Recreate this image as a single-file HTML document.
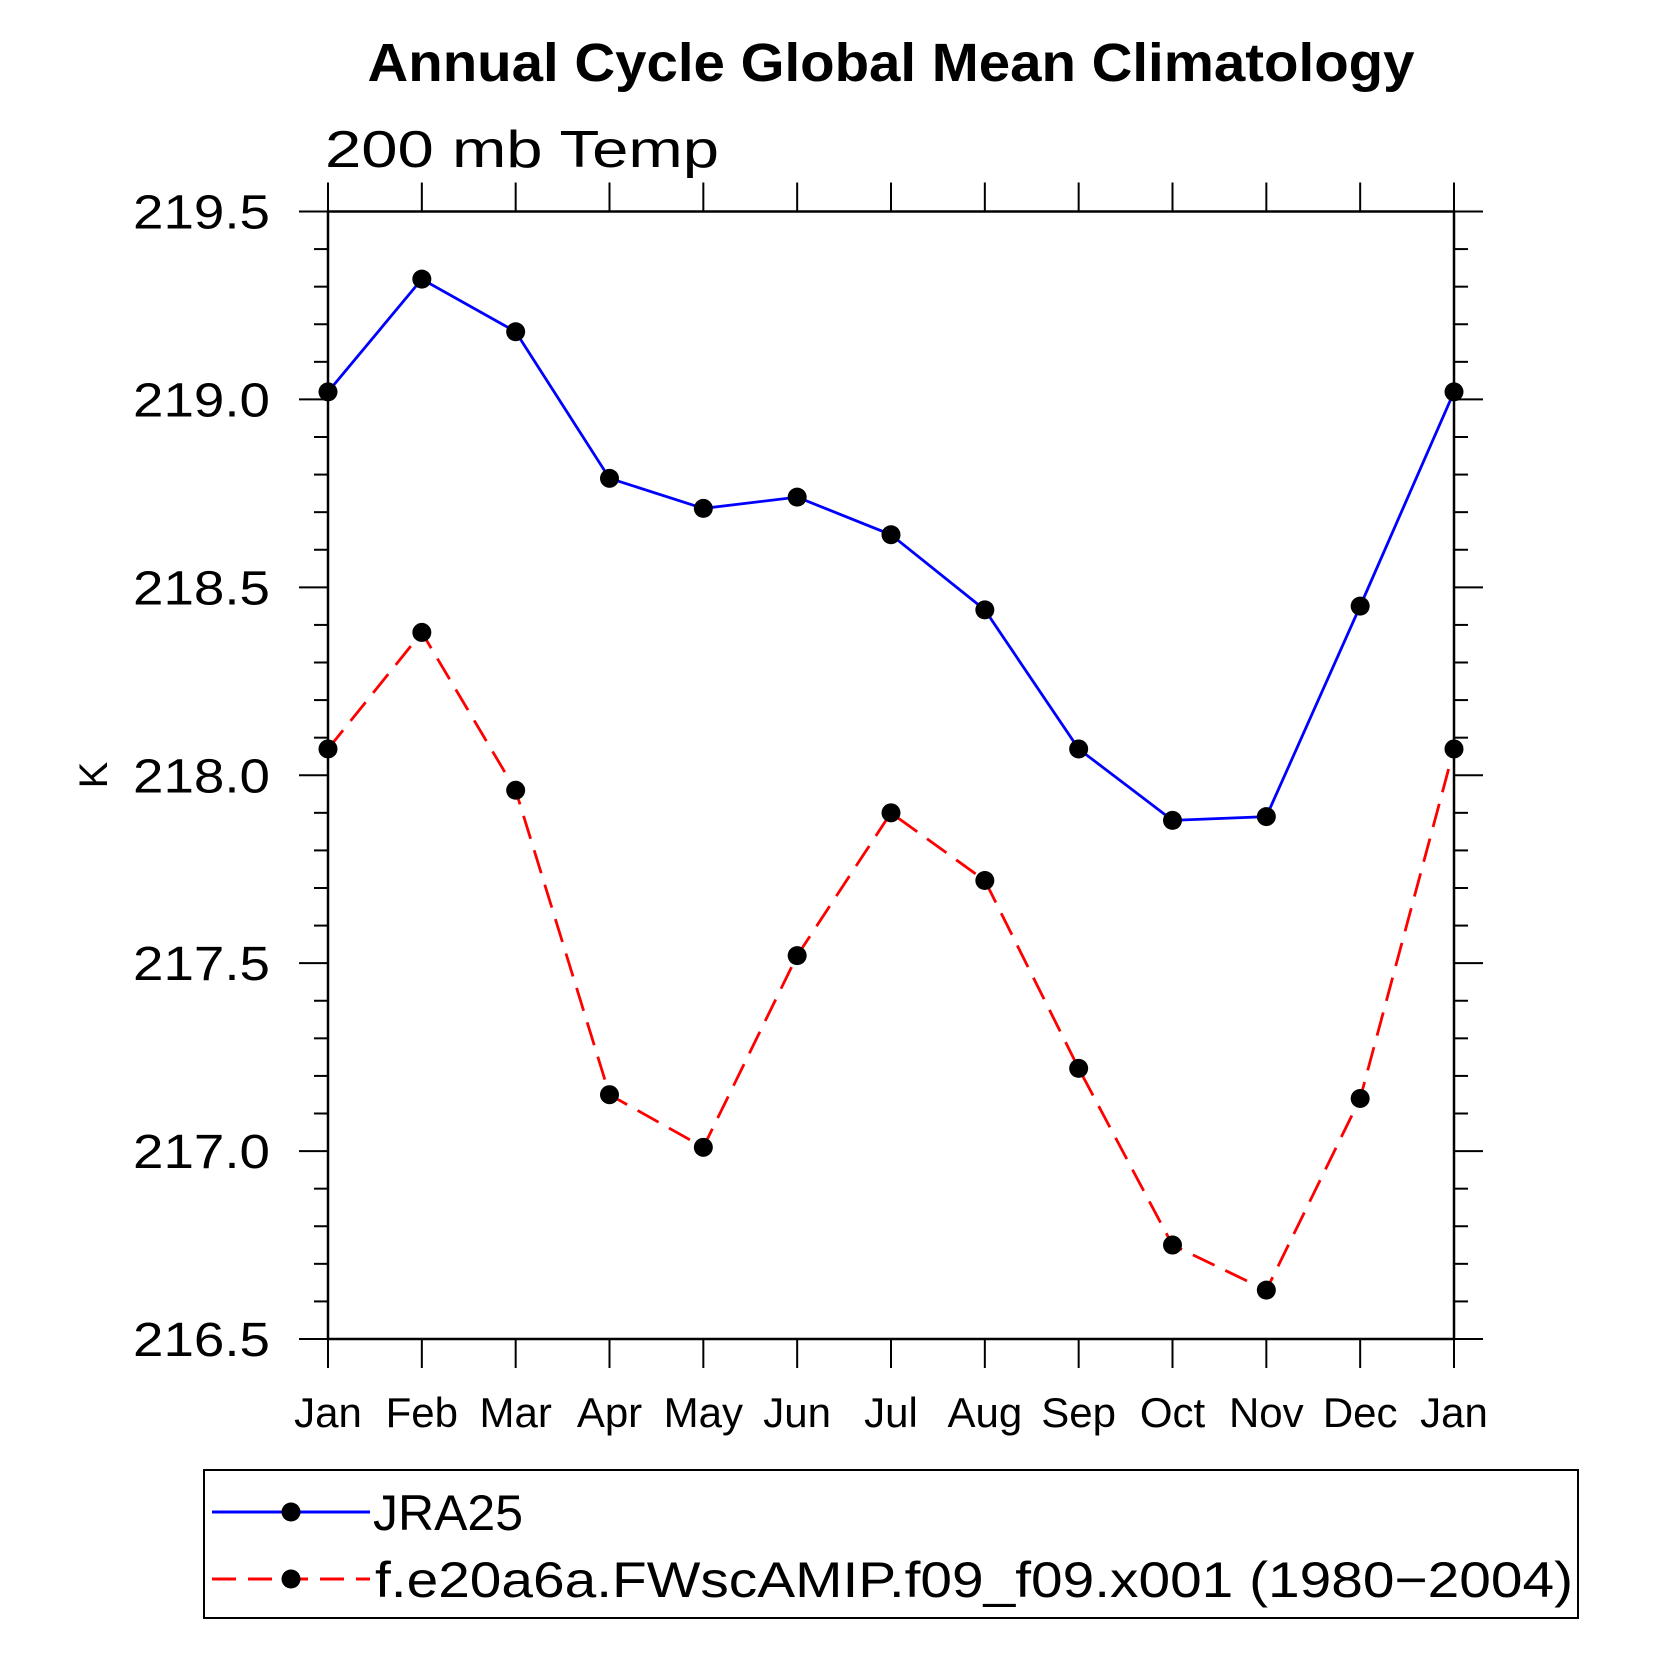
<!DOCTYPE html>
<html><head><meta charset="utf-8"><style>
html,body{margin:0;padding:0;background:#fff}
svg{display:block}
text{font-family:"Liberation Sans",sans-serif;fill:#000}
</style></head><body>
<svg id="chart" width="1658" height="1658" viewBox="0 0 1658 1658" xmlns="http://www.w3.org/2000/svg">
<text x="891" y="81" text-anchor="middle" font-size="54" font-weight="bold" textLength="1047" lengthAdjust="spacingAndGlyphs">Annual Cycle Global Mean Climatology</text>
<text x="325" y="167" font-size="52" textLength="394" lengthAdjust="spacingAndGlyphs">200 mb Temp</text>
<text transform="translate(107,775) rotate(-90)" text-anchor="middle" font-size="40">K</text>
<g id="axes"></g>
<g id="series"></g>
<g>
<rect x="204" y="1470" width="1374" height="148" fill="none" stroke="#000" stroke-width="2"/>
<line x1="212" y1="1512" x2="370" y2="1512" stroke="#0000ff" stroke-width="3"/>
<circle cx="291" cy="1512" r="9.5" fill="#000"/>
<text x="373" y="1530" font-size="50" textLength="150" lengthAdjust="spacingAndGlyphs">JRA25</text>
<line x1="212" y1="1579" x2="370" y2="1579" stroke="#ff0000" stroke-width="3" stroke-dasharray="24,12"/>
<circle cx="291" cy="1579" r="9.5" fill="#000"/>
<text x="375" y="1597" font-size="50" textLength="1198" lengthAdjust="spacingAndGlyphs">f.e20a6a.FWscAMIP.f09_f09.x001 (1980−2004)</text>
</g>
</svg>
<script>
const months = ["Jan","Feb","Mar","Apr","May","Jun","Jul","Aug","Sep","Oct","Nov","Dec","Jan"];
const jra25 = [219.02,219.32,219.18,218.79,218.71,218.74,218.64,218.44,218.07,217.88,217.89,218.45,219.02];
const model = [218.07,218.38,217.96,217.15,217.01,217.52,217.90,217.72,217.22,216.75,216.63,217.14,218.07];
const yTicks = [216.5,217.0,217.5,218.0,218.5,219.0,219.5];
const yTickLabels = ["216.5","217.0","217.5","218.0","218.5","219.0","219.5"];

const NS="http://www.w3.org/2000/svg";
const L=328,R=1454,T=211.5,B=1339,YMIN=216.5,YMAX=219.5;
const xs=i=>L+(R-L)*i/(months.length-1);
const ys=v=>B-(B-T)*(v-YMIN)/(YMAX-YMIN);
function mk(tag,attrs,parent){const e=document.createElementNS(NS,tag);for(const k in attrs)e.setAttribute(k,attrs[k]);parent.appendChild(e);return e;}
const axes=document.getElementById('axes');
const frame=mk('rect',{x:L,y:T,width:R-L,height:B-T,fill:'none',stroke:'#000','stroke-width':2.5},axes);


months.forEach((m,i)=>{
  const x=xs(i);
  const t1=mk('line',{x1:x,y1:B,x2:x,y2:B+29,stroke:'#000','stroke-width':2},axes);
  
  
  const t2=mk('line',{x1:x,y1:T,x2:x,y2:T-29,stroke:'#000','stroke-width':2},axes);
  
  
  const lb=mk('text',{x:x,y:1427,'text-anchor':'middle','font-size':42},axes);
  lb.textContent=m;
  
  
});
for(let k=0;k<=30;k++){
  const v=YMIN+k*0.1;const y=ys(v);
  const major=(k%5===0);const len=major?29:14;
  const a=mk('line',{x1:L-len,y1:y,x2:L,y2:y,stroke:'#000','stroke-width':2},axes);
  
  
  const b=mk('line',{x1:R,y1:y,x2:R+len,y2:y,stroke:'#000','stroke-width':2},axes);
  
  
}
yTicks.forEach((v,i)=>{
  const lb=mk('text',{x:270,y:ys(v)+17,'text-anchor':'end','font-size':48,textLength:137,lengthAdjust:'spacingAndGlyphs'},axes);
  lb.textContent=yTickLabels[i];
  
  
});
const ser=document.getElementById('series');
function draw(vals,color,dash,name){
  const pts=vals.map((v,i)=>xs(i)+','+ys(v)).join(' ');
  const pl=mk('polyline',{points:pts,fill:'none',stroke:color,'stroke-width':2.8},ser);
  if(dash)pl.setAttribute('stroke-dasharray',dash);
  
  
  vals.forEach((v,i)=>{
    const c=mk('circle',{cx:xs(i),cy:ys(v),r:9.5,fill:'#000'},ser);
    
    
  });
}
draw(jra25,'#0000ff',null,'jra25');
draw(model,'#ff0000','24,12','model');
</script>
</body></html>
